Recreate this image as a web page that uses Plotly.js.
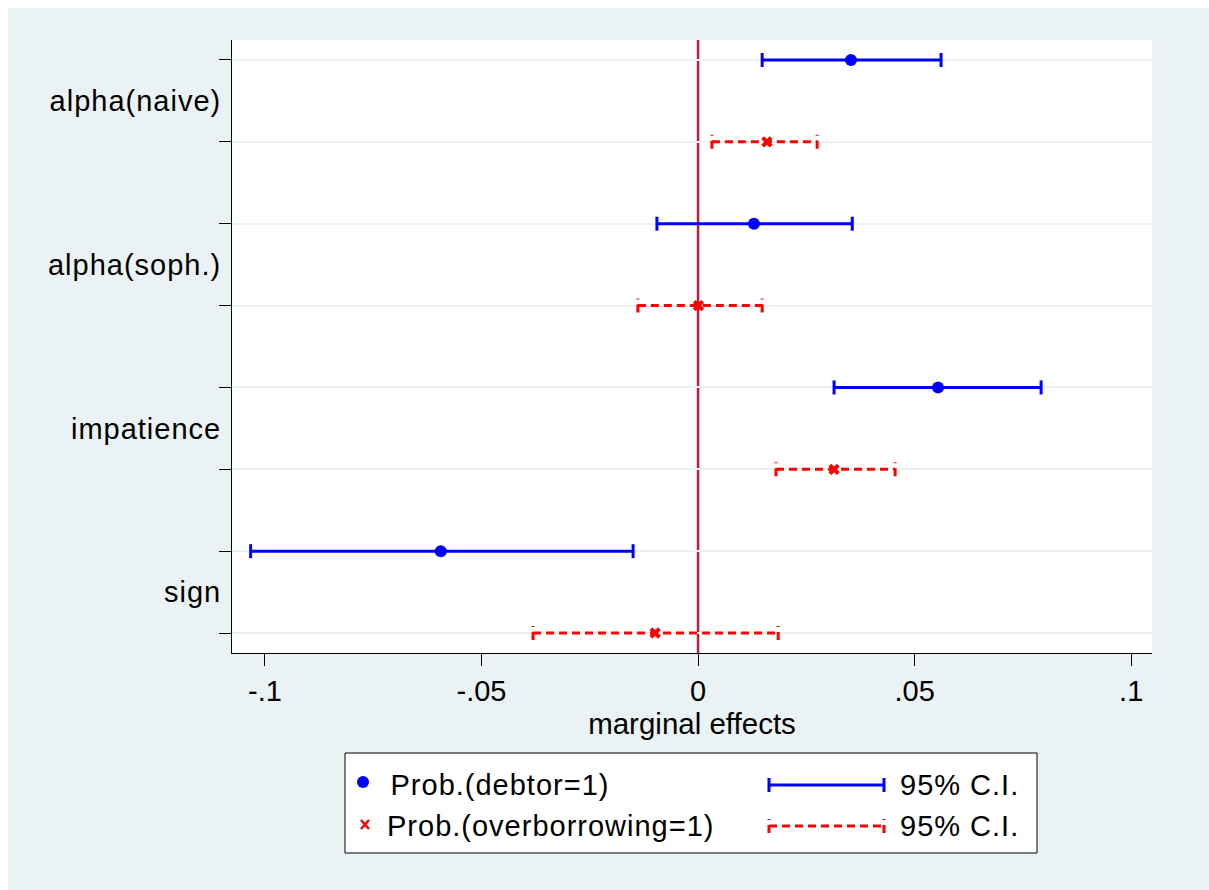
<!DOCTYPE html>
<html>
<head>
<meta charset="utf-8">
<script src="https://cdn.plot.ly/plotly-3.0.1.min.js"></script>
<style>
  html, body { margin: 0; padding: 0; background: #ffffff; }
  #chart { position: absolute; left: 8px; top: 8px; width: 1201px; height: 882px; }
  #chart .ytick text, #chart .annotation-text { letter-spacing: 1px; }
</style>
</head>
<body>
<div id="chart"></div>
<script>
// ---- data ----
var categories = ['alpha(naive)', 'alpha(soph.)', 'impatience', 'sign'];
var debtorME = [0.0353, 0.0129, 0.0554, -0.0594];
var debtorLo = [0.0148, -0.0095, 0.0314, -0.1033];
var debtorHi = [0.0561, 0.0356, 0.0792, -0.0150];
var overME   = [0.0159, 0.0001, 0.0314, -0.0099];
var overLo   = [0.0032, -0.0139, 0.0180, -0.0381];
var overHi   = [0.0275, 0.0148, 0.0455, 0.0185];
var xTickVals = [-0.1, -0.05, 0, 0.05, 0.1];
var xTickText = ['-.1', '-.05', '0', '.05', '.1'];
var seriesNames = ['Prob.(debtor=1)', 'Prob.(overborrowing=1)'];
var ciLabel = '95% C.I.';

// ---- layout constants ----
var FONT = 'Liberation Sans, Arial, Helvetica, sans-serif';
var BLUE = '#0000FF', RED = '#FF0000', VLINE = '#C41A3E', BG = '#EAF2F3';
var W = 1201, H = 882;
var M = {l: 224, r: 57, t: 32, b: 237};
var PW = W - M.l - M.r, PH = H - M.t - M.b;
var CAP = 0.0855; // half cap height in y units

var n = categories.length;
var rowDebtor = categories.map(function (c, i) { return 2 * (n - i); });
var rowOver = categories.map(function (c, i) { return 2 * (n - i) - 1; });
var rowLabel = categories.map(function (c, i) { return 2 * (n - i) - 0.5; });
var allRows = rowDebtor.concat(rowOver);

function ciSegments(lo, hi, rows) {
  var x = [], y = [];
  for (var i = 0; i < lo.length; i++) {
    x.push(lo[i], hi[i], null);
    y.push(rows[i], rows[i], null);
  }
  return {x: x, y: y};
}
function capSegments(lo, hi, rows) {
  var x = [], y = [];
  for (var i = 0; i < lo.length; i++) {
    x.push(lo[i], lo[i], null, hi[i], hi[i], null);
    y.push(rows[i] - CAP, rows[i] + CAP, null, rows[i] - CAP, rows[i] + CAP, null);
  }
  return {x: x, y: y};
}

var dCI = ciSegments(debtorLo, debtorHi, rowDebtor);
var dCap = capSegments(debtorLo, debtorHi, rowDebtor);
var oCI = ciSegments(overLo, overHi, rowOver);
var oCap = capSegments(overLo, overHi, rowOver);

var traces = [
  {x: dCI.x, y: dCI.y, mode: 'lines', line: {color: BLUE, width: 3}, hoverinfo: 'skip'},
  {x: dCap.x, y: dCap.y, mode: 'lines', line: {color: BLUE, width: 3}, hoverinfo: 'skip'},
  {x: oCI.x, y: oCI.y, mode: 'lines', line: {color: RED, width: 3, dash: '8px,5px'}, hoverinfo: 'skip'},
  {x: oCap.x, y: oCap.y, mode: 'lines', line: {color: RED, width: 3, dash: '8px,5px'}, hoverinfo: 'skip'},
  {x: debtorME, y: rowDebtor, mode: 'markers', name: seriesNames[0],
   marker: {color: BLUE, size: 12, symbol: 'circle'}},
  {x: overME, y: rowOver, mode: 'markers', name: seriesNames[1],
   marker: {color: RED, size: 10, symbol: 'x'}}
];

// pixel (div) -> paper helpers
function px(x) { return (x - M.l) / PW; }
function py(y) { return (M.t + PH - y) / PH; }

var shapes = [
  {type: 'line', xref: 'x', yref: 'paper', x0: 0, x1: 0, y0: 0, y1: 1,
   line: {color: VLINE, width: 2.5}, layer: 'between'},
  {type: 'rect', xref: 'paper', yref: 'paper', x0: px(337), x1: px(1029), y0: py(845), y1: py(745),
   line: {color: '#000000', width: 1}, fillcolor: '#FFFFFF', layer: 'above'}
];
var annotations = [];
var legRows = [777, 818];
var legSampleX0 = 761, legSampleX1 = 876;
shapes.push({type: 'circle', xref: 'paper', yref: 'paper', x0: px(349), x1: px(361), y0: py(780), y1: py(768),
  line: {color: BLUE, width: 0}, fillcolor: BLUE, layer: 'above'});
[[353, 812, 361, 821], [353, 821, 361, 812]].forEach(function (s) {
  shapes.push({type: 'line', xref: 'paper', yref: 'paper', x0: px(s[0]), y0: py(s[1]), x1: px(s[2]), y1: py(s[3]),
    line: {color: RED, width: 2.5}, layer: 'above'});
});
[[BLUE, 'solid'], [RED, '8px,5px']].forEach(function (st, k) {
  var yc = legRows[k];
  shapes.push({type: 'line', xref: 'paper', yref: 'paper', x0: px(legSampleX0), x1: px(legSampleX1), y0: py(yc), y1: py(yc),
    line: {color: st[0], width: 3, dash: st[1]}, layer: 'above'});
  [legSampleX0, legSampleX1].forEach(function (xc) {
    shapes.push({type: 'line', xref: 'paper', yref: 'paper', x0: px(xc), x1: px(xc), y0: py(yc + 7), y1: py(yc - 7),
      line: {color: st[0], width: 3, dash: st[1]}, layer: 'above'});
  });
  annotations.push({xref: 'paper', yref: 'paper', x: px(388), y: py(yc), xanchor: 'left', yanchor: 'middle',
    text: seriesNames[k], showarrow: false, font: {family: FONT, size: 29, color: '#000'}});
  annotations.push({xref: 'paper', yref: 'paper', x: px(894), y: py(yc), xanchor: 'left', yanchor: 'middle',
    text: ciLabel, showarrow: false, font: {family: FONT, size: 29, color: '#000'}});
});

var layout = {
  width: W, height: H,
  margin: M,
  paper_bgcolor: BG,
  plot_bgcolor: '#FFFFFF',
  showlegend: false,
  font: {family: FONT, size: 28, color: '#000'},
  xaxis: {
    range: [-0.1076, 0.1048],
    tickvals: xTickVals, ticktext: xTickText,
    ticks: 'outside', ticklen: 12, tickwidth: 1, tickcolor: '#000',
    showline: true, linecolor: '#000', linewidth: 1,
    showgrid: false, zeroline: false,
    tickfont: {family: FONT, size: 29, color: '#000'},
    title: {text: 'marginal effects', font: {family: FONT, size: 29.5, color: '#000'}, standoff: 2}
  },
  yaxis: {
    range: [0.756, 8.244],
    tickvals: rowLabel, ticktext: categories,
    ticks: '', showgrid: false, zeroline: false,
    showline: true, linecolor: '#000', linewidth: 1,
    ticklabelstandoff: 4,
    tickfont: {family: FONT, size: 29, color: '#000'},
    minor: {tickvals: allRows, ticks: 'outside', ticklen: 12, tickwidth: 1, tickcolor: '#000',
            showgrid: true, gridcolor: BG, gridwidth: 2}
  },
  shapes: shapes,
  annotations: annotations
};

Plotly.newPlot('chart', traces, layout, {displayModeBar: false, staticPlot: true});
</script>
</body>
</html>
